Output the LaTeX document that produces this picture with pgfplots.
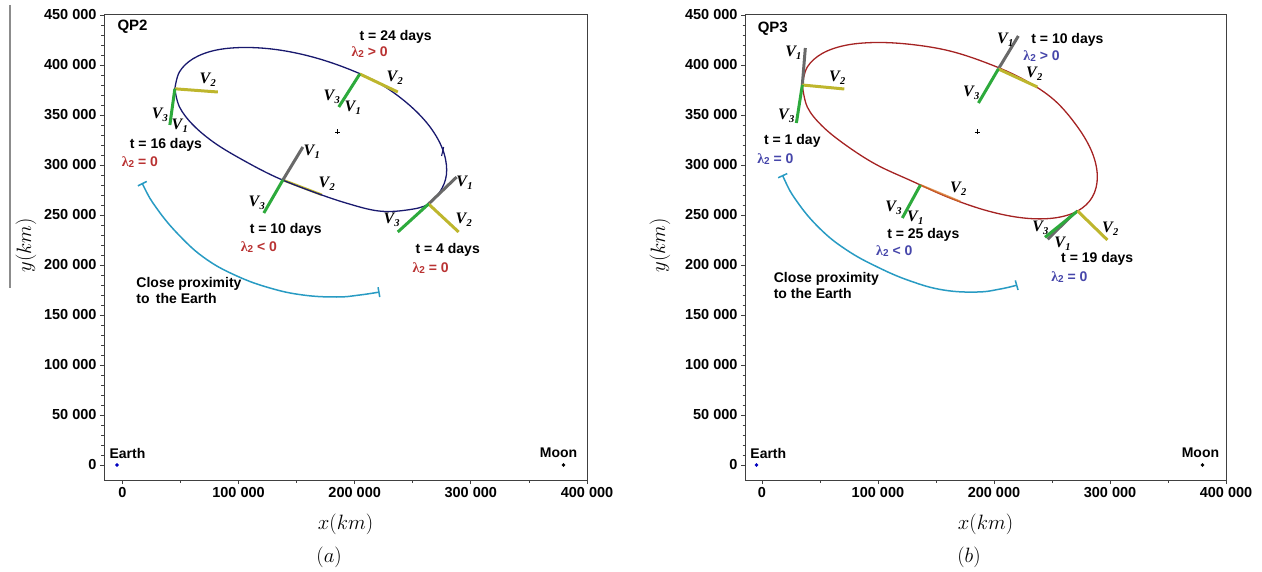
\documentclass[border=0pt]{standalone}
\usepackage{pgfplots}
\pgfplotsset{compat=1.18}
\usepackage{fontspec}
\setmainfont{Liberation Sans}
\newfontfamily\tms{Liberation Serif}

\definecolor{orbA}{RGB}{25,25,110}
\definecolor{orbB}{RGB}{165,35,35}
\definecolor{vone}{RGB}{105,105,105}
\definecolor{vtwo}{RGB}{190,182,45}
\definecolor{vthree}{RGB}{45,170,60}
\definecolor{arcc}{RGB}{40,155,195}
\definecolor{lamA}{RGB}{185,50,50}
\definecolor{lamB}{RGB}{70,70,170}
\definecolor{vtwoB}{RGB}{215,115,35}

\newcommand{\ann}{\bfseries\fontsize{14}{16}\selectfont}
\newcommand{\vlab}[1]{{\tms\bfseries\itshape\fontsize{16}{16}\selectfont V\kern0.3pt\raisebox{-0.4ex}{\fontsize{10.5}{10.5}\selectfont #1}}}
\newcommand{\lam}[2]{{\color{#1}\ann{\tms λ}\raisebox{-0.1ex}{\fontsize{10}{10}\selectfont 2} #2}}

\pgfplotsset{
  panel/.style={
    scale only axis,
    anchor=south west,
    height=465pt,
    ymin=-15000, ymax=450000,
    xtick={0,100000,200000,300000,400000},
    ytick={0,50000,...,450000},
    minor x tick num=1,
    minor y tick num=4,
    tick pos=left,
    tick align=outside,
    major tick length=4pt,
    minor tick length=2.5pt,
    scaled ticks=false,
    /pgf/number format/.cd, fixed, 1000 sep={\hspace{0.28em}}, assume math mode=true,
    /pgfplots/.cd,
    tick label style={font=\bfseries\fontsize{14.5}{15}\selectfont, text=black},
    axis line style={draw=black!75, line width=1pt},
    every tick/.style={black!75, line width=0.8pt},
    clip=false,
    xlabel={$x(km)$},
    ylabel={$y(km)$},
    label style={font=\fontsize{21}{21}\selectfont},
    xlabel style={at={(axis description cs:0.5,-0.0946)}, anchor=center},
  },
  orbit/.style={smooth, tension=0.6, line width=1.3pt, no marks},
  vec/.style={line width=3pt, no marks},
  prox/.style={smooth, tension=0.7, line width=1.5pt, arcc, no marks, |-|},
}

\begin{document}
\begin{tikzpicture}
\useasboundingbox (0,0) rectangle (1262pt,-572pt);
\draw[black!45, line width=1.2pt] (10pt,-5pt) -- (10pt,-288pt);

% ---------------- QP2 ----------------
\begin{axis}[panel, at={(104pt,-480pt)}, width=483pt,
  xmin=-15800, xmax=400000,
  ylabel style={at={(axis description cs:-0.1615,0.505)}, anchor=center}]
\addplot[vec, vtwo, line width=2.5pt] coordinates {(138200,285000) (171700,270200)};
\addplot[orbit, orbA] coordinates {
(45200,376200) (49200,393200) (60900,406300) (79500,414600) (103700,417500)
(132000,415500) (162200,408500) (192500,397000) (220700,382000) (245000,362000)
(263600,340000) (275300,317000) (279200,295000) (275300,277000) (263600,261000)
(245000,255000) (220700,254000) (192500,262000) (162200,274000) (132000,288000)
(103700,305000) (79500,322000) (60900,340000) (49200,358000) (45200,376200)};
% direction of motion along the orbit
\addplot[orbA, line width=1.1pt, no marks] coordinates {(276600,318000) (274800,309000)};
% t = 16 days
\addplot[vec, vtwo] coordinates {(45200,376200) (82200,373000)};
\addplot[vec, vthree] coordinates {(45200,376200) (40900,340000)};
% t = 24 days
\addplot[vec, vtwo] coordinates {(204400,391000) (237100,373000)};
\addplot[vec, vthree] coordinates {(204400,391000) (186300,358000)};
% t = 10 days
\addplot[vec, vone] coordinates {(138200,285000) (155400,318000)};
\addplot[vec, vthree] coordinates {(138200,285000) (121800,252000)};
% t = 4 days
\addplot[vec, vone] coordinates {(263600,261000) (287800,288000)};
\addplot[vec, vtwo] coordinates {(263600,261000) (289500,233000)};
\addplot[vec, vthree] coordinates {(263600,261000) (237100,233000)};
% close approach to the Earth
\addplot[prox] coordinates {(16900,282000) (30000,256000) (49500,229000)
(72000,206000) (98600,189000) (127000,177000) (155400,170000) (184600,168000)
(204400,170000) (221500,173000)};
% orbit centre, Earth and Moon
\addplot[only marks, mark=+, mark size=2.5pt, black, mark options={line width=0.8pt}] coordinates {(185400,333000)};
\addplot[only marks, mark=*, mark size=1.6pt, blue!75!black] coordinates {(-4671,0)};
\addplot[only marks, mark=*, mark size=1.6pt, black] coordinates {(379729,0)};

\node[anchor=west, font=\bfseries\fontsize{15}{15}\selectfont] at (axis cs:-7200,438000) {QP2};
\node[font=\ann] at (axis cs:235300,428000) {t = 24 days};
\node at (axis cs:212900,413000) {\lam{lamA}{> 0}};
\node at (axis cs:234500,387000) {\vlab{2}};
\node at (axis cs:180200,368000) {\vlab{3}};
\node at (axis cs:198400,357000) {\vlab{1}};

\node at (axis cs:73600,385000) {\vlab{2}};
\node at (axis cs:32300,350000) {\vlab{3}};
\node at (axis cs:49500,339000) {\vlab{1}};
\node[font=\ann] at (axis cs:37500,320000) {t = 16 days};
\node at (axis cs:15100,303000) {\lam{lamA}{= 0}};

\node at (axis cs:163000,313000) {\vlab{1}};
\node at (axis cs:175900,281000) {\vlab{2}};
\node at (axis cs:115700,262000) {\vlab{3}};
\node[font=\ann] at (axis cs:140700,235000) {t = 10 days};
\node at (axis cs:117500,218000) {\lam{lamA}{< 0}};

\node at (axis cs:294600,282000) {\vlab{1}};
\node at (axis cs:293800,245000) {\vlab{2}};
\node at (axis cs:231800,245000) {\vlab{3}};
\node[font=\ann] at (axis cs:280100,215000) {t = 4 days};
\node at (axis cs:265400,197000) {\lam{lamA}{= 0}};

\node[anchor=west, align=left, font=\ann] at (axis cs:9100,175000) {Close proximity\\ to\, the Earth};
\node[font=\ann] at (axis cs:4400,12000) {Earth};
\node[font=\ann] at (axis cs:375500,12000) {Moon};
\node[font=\fontsize{21}{21}\selectfont] at (axis description cs:0.466,-0.1656) {$(a)$};
\end{axis}

% ---------------- QP3 ----------------
\begin{axis}[panel, at={(745pt,-480pt)}, width=481pt,
  xmin=-14600, xmax=400000,
  ylabel style={at={(axis description cs:-0.1767,0.505)}, anchor=center}]
\addplot[orbit, orbB] coordinates {
(34800,380000) (39100,398000) (51900,411500) (72100,419700) (98400,422500)
(129100,420500) (162000,414000) (194900,401500) (225600,385500) (251900,365000)
(272100,338000) (284800,312000) (289100,288000) (284800,268000) (272100,254000)
(251900,247000) (225600,247000) (194900,254000) (162000,267000) (129100,284000)
(98400,300500) (72100,320000) (51900,339000) (39100,358000) (34800,380000)};
% t = 1 day
\addplot[vec, vone] coordinates {(34800,380000) (37400,417000)};
\addplot[vec, vtwo] coordinates {(34800,380000) (71000,376000)};
\addplot[vec, vthree] coordinates {(34800,380000) (29700,342000)};
% t = 10 days
\addplot[vec, vone] coordinates {(203800,396000) (221000,429000)};
\addplot[vec, vtwo] coordinates {(203800,396000) (237400,378000)};
\addplot[vec, vthree] coordinates {(203800,396000) (186600,362000)};
% t = 25 days
\addplot[vec, vtwoB, line width=2pt, opacity=0.75] coordinates {(136600,280000) (171000,263400)};
\addplot[vec, vthree] coordinates {(136600,280000) (121000,247000)};
% t = 19 days
\addplot[vec, vone] coordinates {(267300,249800) (246300,225700)};
\addplot[vec, vthree] coordinates {(272100,254000) (244000,227700)};
\addplot[vec, vtwo] coordinates {(272100,254000) (297800,225000)};
% close approach to the Earth
\addplot[prox] coordinates {(17600,290000) (30500,263000) (50300,236000)
(73000,215000) (99500,198000) (127900,184000) (156400,175000) (185700,173000)
(205500,176000) (220200,180000)};
% orbit centre, Earth and Moon
\addplot[only marks, mark=+, mark size=2.5pt, black, mark options={line width=0.8pt}] coordinates {(185400,333000)};
\addplot[only marks, mark=*, mark size=1.6pt, blue!75!black] coordinates {(-4671,0)};
\addplot[only marks, mark=*, mark size=1.6pt, black] coordinates {(379729,0)};

\node[anchor=west, font=\bfseries\fontsize{15}{15}\selectfont] at (axis cs:-6600,436000) {QP3};
\node at (axis cs:27100,412000) {\vlab{1}};
\node at (axis cs:65000,387000) {\vlab{2}};
\node at (axis cs:21000,349000) {\vlab{3}};
\node[font=\ann] at (axis cs:26200,324000) {t = 1 day};
\node at (axis cs:11600,306000) {\lam{lamB}{= 0}};

\node at (axis cs:209800,425000) {\vlab{1}};
\node[font=\ann] at (axis cs:263300,425000) {t = 10 days};
\node at (axis cs:241000,409000) {\lam{lamB}{> 0}};
\node at (axis cs:234800,391000) {\vlab{2}};
\node at (axis cs:180500,372000) {\vlab{3}};

\node at (axis cs:169300,276000) {\vlab{2}};
\node at (axis cs:113300,257000) {\vlab{3}};
\node at (axis cs:132200,247000) {\vlab{1}};
\node[font=\ann] at (axis cs:139100,230000) {t = 25 days};
\node at (axis cs:114100,214000) {\lam{lamB}{< 0}};

\node at (axis cs:240000,237000) {\vlab{3}};
\node at (axis cs:259000,221000) {\vlab{1}};
\node at (axis cs:300300,236000) {\vlab{2}};
\node[font=\ann] at (axis cs:289000,206000) {t = 19 days};
\node at (axis cs:265000,188000) {\lam{lamB}{= 0}};

\node[anchor=west, align=left, font=\ann] at (axis cs:7200,179500) {Close proximity\\ to the Earth};
\node[font=\ann] at (axis cs:5500,12000) {Earth};
\node[font=\ann] at (axis cs:378000,12000) {Moon};
\node[font=\fontsize{21}{21}\selectfont] at (axis description cs:0.4657,-0.1656) {$(b)$};
\end{axis}
\end{tikzpicture}
\end{document}
